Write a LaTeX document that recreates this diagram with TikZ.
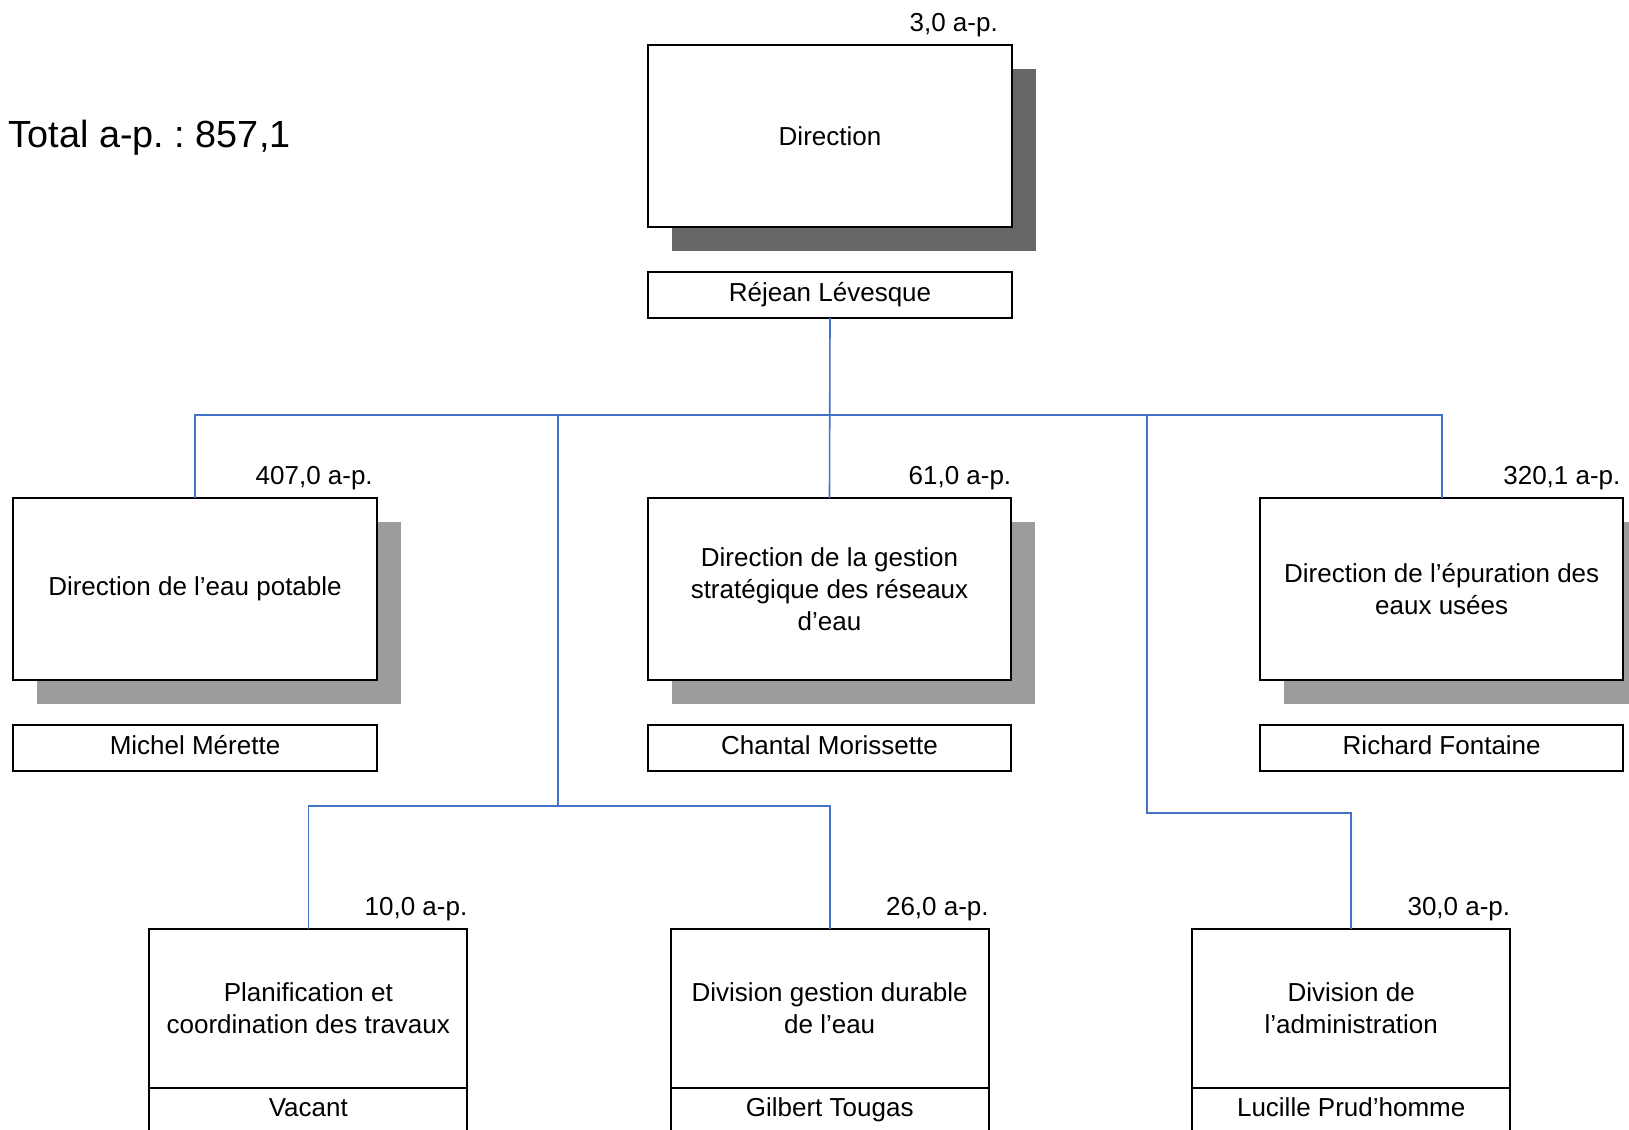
\documentclass[tikz,border=0pt]{standalone}
\usepackage{fontspec}
\setmainfont{Liberation Sans}
\usetikzlibrary{positioning,shadows}
\definecolor{linkblue}{HTML}{4472C4}
\definecolor{shadedark}{HTML}{666666}
\definecolor{shadelight}{HTML}{9C9C9C}
\frenchspacing

\begin{document}
\begin{tikzpicture}[
		x=0.5pt, y=-0.5pt,
		every node/.style = {font=\fontsize{13}{15.85}\selectfont, inner sep=0pt, outer sep=0pt},
		unitbox/.style    = {draw, line width=1pt, fill=white, align=center, minimum width=181.75pt, minimum height=90.85pt},
		shadowed/.style   = {drop shadow={shadow xshift=12pt, shadow yshift=-12pt, fill=#1, opacity=1}},
		namebox/.style    = {draw, line width=1pt, fill=white, text height=9.5pt, text depth=3.2pt, minimum width=181.75pt, minimum height=22.85pt},
		divbox/.style     = {draw, line width=1pt, fill=white, align=center, minimum width=159pt, minimum height=79.2pt},
		divname/.style    = {namebox, minimum width=159pt},
		ap/.style         = {anchor=base east},
		link/.style       = {draw=linkblue, line width=0.8pt}
		]
		\useasboundingbox (0,0) rectangle (1629,1130);
		\clip (0,0) rectangle (1629,1130);

		\node[anchor=base west, font=\fontsize{18.9}{22}\selectfont] (total) at (9,147) {Total a-p. : 857,1};

		% direction
		\node[unitbox, shadowed=shadedark] (dir) at (830,136) {Direction};
		\node[namebox, below=22.65pt of dir] (dirname) {Réjean Lévesque};
		\node[ap] (dirap) at ([shift={(-14,-14)}]dir.north east) {3,0 a-p.};

		% directions
		\node[unitbox, shadowed=shadelight] (potable) at (195,589) {Direction de l’eau potable};
		\node[namebox, below=22.5pt of potable] (potablename) {Michel Mérette};
		\node[ap] (potableap) at ([shift={(-4,-14)}]potable.north east) {407,0 a-p.};

		\node[unitbox, shadowed=shadelight] (reseaux) at (829.5,589) {Direction de la gestion\\stratégique des réseaux\\d’eau};
		\node[namebox, below=22.5pt of reseaux] (reseauxname) {Chantal Morissette};
		\node[ap] (reseauxap) at ([shift={(0,-14)}]reseaux.north east) {61,0 a-p.};

		\node[unitbox, shadowed=shadelight] (epuration) at (1441.7,589) {Direction de l’épuration des\\eaux usées};
		\node[namebox, below=22.5pt of epuration] (epurationname) {Richard Fontaine};
		\node[ap] (epurationap) at ([shift={(-3,-14)}]epuration.north east) {320,1 a-p.};

		% divisions
		\node[divbox] (planif) at (308.3,1008.5) {Planification et\\coordination des travaux};
		\node[divname, below=0pt of planif] (planifname) {Vacant};
		\node[ap] (planifap) at ([shift={(0,-14)}]planif.north east) {10,0 a-p.};

		\node[divbox] (durable) at (829.7,1008.5) {Division gestion durable\\de l’eau};
		\node[divname, below=0pt of durable] (durablename) {Gilbert Tougas};
		\node[ap] (durableap) at ([shift={(0,-14)}]durable.north east) {26,0 a-p.};

		\node[divbox] (admin) at (1351.2,1008.5) {Division de\\l’administration};
		\node[divname, below=0pt of admin] (adminname) {Lucille Prud’homme};
		\node[ap] (adminap) at ([shift={(0,-14)}]admin.north east) {30,0 a-p.};

		% liens
		\coordinate (bus) at (829.5,415);
		\coordinate (leftbus) at (557.7,806);
		\coordinate (rightbus) at (1147,812.7);
		\draw[link] (dirname.south) -- (reseaux.north);
		\draw[link] (potable.north) |- (bus) -| (epuration.north);
		\draw[link] (leftbus |- bus) -- (leftbus);
		\draw[link] (planif.north) |- (leftbus) -| (durable.north);
		\draw[link] (rightbus |- bus) -- (rightbus) -| (admin.north);
	\end{tikzpicture}
\end{document}
